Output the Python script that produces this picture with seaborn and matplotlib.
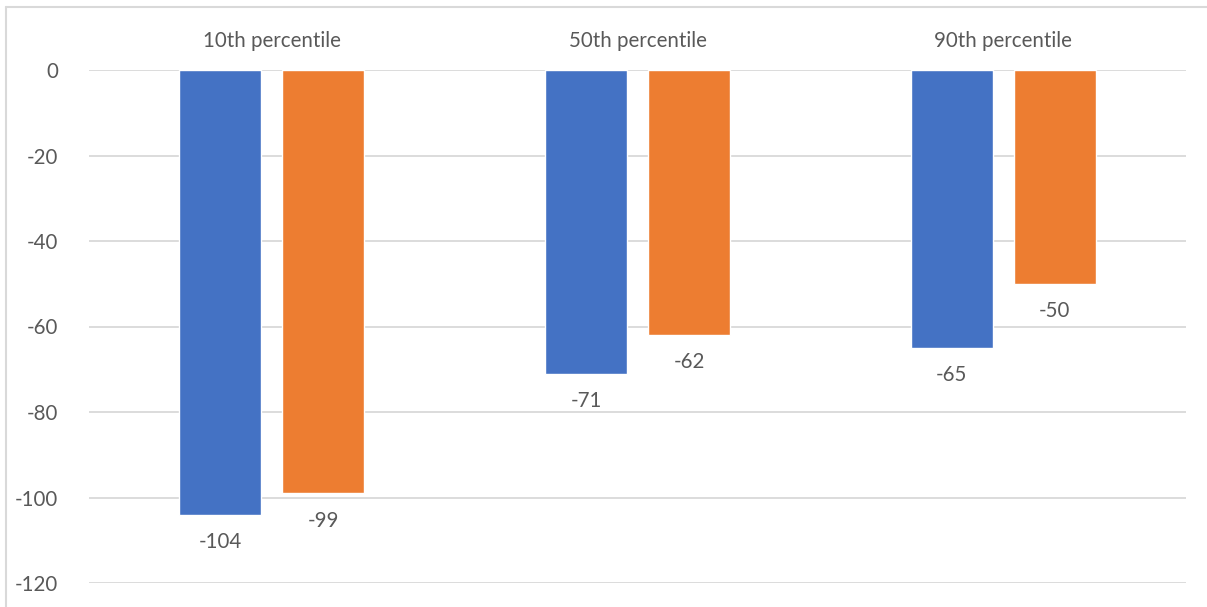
import matplotlib
matplotlib.use("Agg")
import matplotlib.pyplot as plt
import seaborn as sns
import pandas as pd
from matplotlib.lines import Line2D

categories = ["10th percentile", "50th percentile", "90th percentile"]
series_names = ["Series 1", "Series 2"]
series1 = [-104, -71, -65]
series2 = [-99, -62, -50]
colors = ["#4472C4", "#ED7D31"]
yticks = [0, -20, -40, -60, -80, -100, -120]

df = pd.DataFrame({
    "category": categories * 2,
    "series": [series_names[0]] * 3 + [series_names[1]] * 3,
    "value": series1 + series2,
})

sns.set_theme(style="white")
plt.rcParams["font.family"] = ["Lato", "DejaVu Sans"]
text_color = "#595959"
fs = 14.8

fig = plt.figure(figsize=(12.07, 6.07), dpi=100)
fig.patch.set_edgecolor("none")
fig.patch.set_linewidth(0)
ax = fig.add_axes([89 / 1207, 1 - 583 / 607, (1186 - 89) / 1207, (583 - 70) / 607])

sns.barplot(data=df, x="category", y="value", hue="series", order=categories,
            hue_order=series_names, palette=colors, width=0.563, gap=0.204,
            saturation=1, legend=False, ax=ax)

for cont in ax.containers:
    ax.bar_label(cont, fmt="%d", padding=12.5, fontsize=fs, color=text_color)

ax.set_ylim(-120, 0)
ax.set_xlim(-0.5, 2.5)
ax.set_yticks(yticks)
ax.set_yticklabels([str(v) for v in yticks])
ax.yaxis.grid(True, color="#d9d9d9", linewidth=1.3)
ax.set_axisbelow(True)
ax.xaxis.tick_top()
ax.tick_params(axis="x", length=0, pad=14, labelsize=fs, labelcolor=text_color)
ax.tick_params(axis="y", length=0, pad=22, labelsize=fs, labelcolor=text_color)
ax.set_xlabel("")
ax.set_ylabel("")
for s in ax.spines.values():
    s.set_visible(False)

# chart area border: left and top edges
x0 = 5.5 / 1207
y0 = 1 - 7 / 607
for xs, ys in [([x0, x0], [0, y0]), ([x0, 1], [y0, y0])]:
    fig.add_artist(Line2D(xs, ys, transform=fig.transFigure,
                          color="#d9d9d9", linewidth=1.5))

fig.savefig("out.png", dpi=100, edgecolor="none")
